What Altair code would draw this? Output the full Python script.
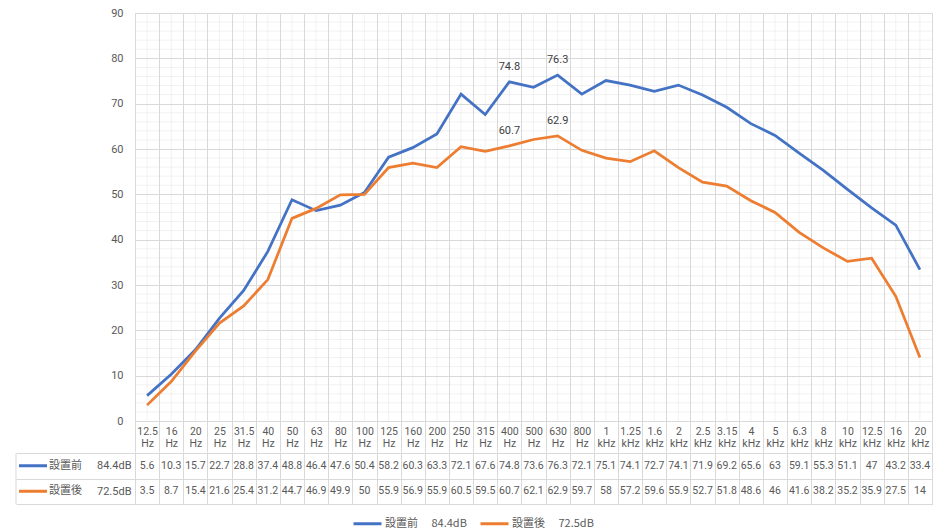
import altair as alt
import pandas as pd

categories = ["12.5 Hz", "16 Hz", "20 Hz", "25 Hz", "31.5 Hz", "40 Hz", "50 Hz", "63 Hz",
              "80 Hz", "100 Hz", "125 Hz", "160 Hz", "200 Hz", "250 Hz", "315 Hz", "400 Hz",
              "500 Hz", "630 Hz", "800 Hz", "1 kHz", "1.25 kHz", "1.6 kHz", "2 kHz", "2.5 kHz",
              "3.15 kHz", "4 kHz", "5 kHz", "6.3 kHz", "8 kHz", "10 kHz", "12.5 kHz", "16 kHz",
              "20 kHz"]
before = [5.6, 10.3, 15.7, 22.7, 28.8, 37.4, 48.8, 46.4, 47.6, 50.4, 58.2, 60.3, 63.3, 72.1,
          67.6, 74.8, 73.6, 76.3, 72.1, 75.1, 74.1, 72.7, 74.1, 71.9, 69.2, 65.6, 63, 59.1,
          55.3, 51.1, 47, 43.2, 33.4]
after = [3.5, 8.7, 15.4, 21.6, 25.4, 31.2, 44.7, 46.9, 49.9, 50, 55.9, 56.9, 55.9, 60.5,
         59.5, 60.7, 62.1, 62.9, 59.7, 58, 57.2, 59.6, 55.9, 52.7, 51.8, 48.6, 46, 41.6,
         38.2, 35.2, 35.9, 27.5, 14]
series_names = ["設置前", "設置後"]
series_totals = ["84.4dB", "72.5dB"]
series_colors = ["#4472C4", "#ED7D31"]
labeled_categories = ["400 Hz", "630 Hz"]
y_major = [0, 10, 20, 30, 40, 50, 60, 70, 80, 90]
y_minor = [v for v in range(0, 91, 2) if v % 10 != 0]

rows = []
for s, vals in zip(series_names, [before, after]):
    for c, v in zip(categories, vals):
        rows.append({"cat": c, "series": s, "value": v, "text": f"{v:g}"})
df = pd.DataFrame(rows)
hdr = pd.DataFrame({"series": series_names, "total": series_totals})

W, H, ROWS_H = 797, 408, 51
GRID = "#d9d9d9"
TXT = "#595959"
FONT = "Roboto"
JFONT = "Noto Sans CJK JP"

xscale = alt.Scale(domain=categories, paddingInner=0, paddingOuter=0)
yscale = alt.Scale(domain=[0, 90])
cscale = alt.Scale(domain=series_names, range=series_colors)
rscale = alt.Scale(domain=series_names, paddingInner=0, paddingOuter=0)

legend_expr = " : ".join(
    [f"datum.label == '{n}' ? '{n}\u3000 {t}'" for n, t in zip(series_names, series_totals)]
) + " : datum.label"
total_expr = " : ".join(
    [f"datum.label == '{n}' ? '{t}'" for n, t in zip(series_names, series_totals)]
) + " : ''"

x_axis_top = alt.Axis(title=None, orient="bottom", tickBand="extent", grid=True,
                      gridColor=GRID, domainColor=GRID, tickColor=GRID, tickSize=31,
                      labelPadding=-26, labelExpr="split(datum.label, ' ')",
                      labelBaseline="top", labelLineHeight=12, labelAngle=0,
                      labelFont=FONT, labelFontSize=10.5, labelColor=TXT)
y_axis_top = alt.Axis(title=None, values=y_major, grid=True, gridColor=GRID,
                      domain=False, ticks=False, labelPadding=12,
                      labelFont=FONT, labelFontSize=11, labelColor=TXT)
color_enc = alt.Color("series:N", scale=cscale,
                      legend=alt.Legend(title=None, orient="none", legendX=217, legendY=495,
                                        direction="horizontal", symbolType="stroke",
                                        symbolStrokeWidth=3, symbolSize=784,
                                        labelExpr=legend_expr, labelFont=JFONT,
                                        labelFontSize=11, labelColor=TXT,
                                        columnPadding=7, labelOffset=2))

minor_h = alt.Chart(pd.DataFrame({"v": y_minor})).mark_rule(
    color=GRID, opacity=0.35, strokeWidth=1
).encode(y=alt.Y("v:Q", scale=yscale, axis=y_axis_top))

minor_v = alt.Chart(pd.DataFrame({"cat": categories})).mark_rule(
    color=GRID, opacity=0.35, strokeWidth=1
).encode(x=alt.X("cat:N", scale=xscale, axis=x_axis_top))

lines = alt.Chart(df).mark_line(strokeWidth=2.75).encode(
    x=alt.X("cat:N", scale=xscale, axis=x_axis_top),
    y=alt.Y("value:Q", scale=yscale, axis=y_axis_top),
    color=color_enc,
)

point_labels = alt.Chart(df[df["cat"].isin(labeled_categories)]).mark_text(
    dy=-15, font=FONT, fontSize=11, color="#404040"
).encode(
    x=alt.X("cat:N", scale=xscale, axis=x_axis_top),
    y=alt.Y("value:Q", scale=yscale, axis=y_axis_top),
    text="text:N",
)

top = alt.layer(minor_h, minor_v, lines, point_labels).properties(width=W, height=H)

x_axis_bot = alt.Axis(title=None, orient="top", tickBand="extent", grid=True,
                      gridColor=GRID, labels=False, ticks=False, domain=False)
y_axis_bot = alt.Axis(title=None, tickBand="extent", grid=True, gridColor=GRID,
                      ticks=True, tickSize=119, tickColor=GRID, domain=False,
                      labelExpr=total_expr, labelPadding=-115,
                      labelFont=FONT, labelFontSize=11, labelColor=TXT)

table_text = alt.Chart(df).mark_text(font=FONT, fontSize=10.5, color=TXT).encode(
    x=alt.X("cat:N", scale=xscale, axis=x_axis_bot),
    y=alt.Y("series:N", scale=rscale, axis=y_axis_bot),
    text="text:N",
)

swatch = alt.Chart(hdr).mark_rule(strokeWidth=3).encode(
    x=alt.value(-116), x2=alt.value(-88),
    y=alt.Y("series:N", scale=rscale, axis=y_axis_bot),
    color=color_enc,
)

names = alt.Chart(hdr).mark_text(align="left", font=JFONT, fontSize=11, color=TXT).encode(
    x=alt.value(-86),
    y=alt.Y("series:N", scale=rscale, axis=y_axis_bot),
    text="series:N",
)

border = alt.Chart(pd.DataFrame({"a": [0]})).mark_rule(color=GRID, strokeWidth=1).encode(
    x=alt.value(-119), y=alt.value(0), y2=alt.value(ROWS_H)
)

bottom = alt.layer(table_text, swatch, names, border).properties(width=W, height=ROWS_H)

chart = alt.vconcat(top, bottom, spacing=-7).properties(
    padding={"left": 7, "top": -2, "right": 5, "bottom": 0}
).configure_view(stroke=GRID)

chart.save("out.html", embed_options={"renderer": "svg", "actions": False})
